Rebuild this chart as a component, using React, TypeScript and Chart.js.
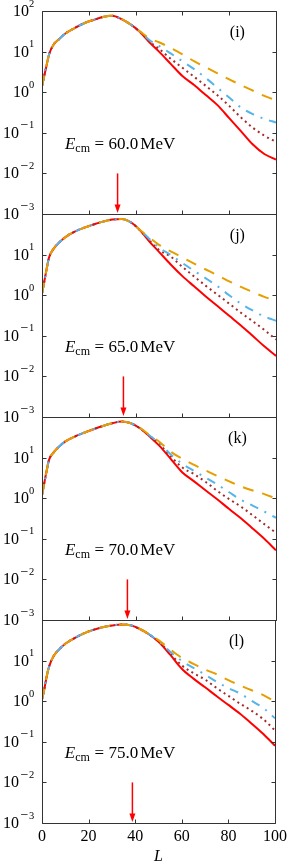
import React, { useEffect, useRef } from "react";
import { Chart, registerables } from "chart.js";

Chart.register(...registerables);

// ---- data ----
const L = [0, 1, 2, 3, 5, 7, 10, 14, 18, 22, 26, 30, 34, 38, 42, 46, 50, 55, 60, 65, 70, 75, 80, 85, 90, 95, 100];

// common part (L = 0 ... 38)
const headI = [1.4, 2.6, 4.7, 8.5, 15, 19.5, 28, 38, 50, 60, 71, 76, 63, 46];
const headJ = [1.1, 2.2, 4.5, 8.5, 14, 19, 27, 37, 46, 55, 65, 73, 75, 62];
const headK = [1.2, 2.4, 4.8, 8.8, 13.5, 18, 25, 33, 41, 50, 60, 70, 77, 70];
const headL = [1.1, 2.0, 4.0, 7.0, 13, 18, 26, 36, 47, 57, 66, 73, 78, 74];

// tails (L = 42 ... 100)
const redTailI = [30, 16.6, 10, 5.0, 2.5, 1.5, 0.85, 0.48, 0.23, 0.11, 0.052, 0.03, 0.022];
const dotTailI = [30, 17.5, 11.7, 6.7, 4.0, 2.4, 1.43, 0.84, 0.46, 0.24, 0.135, 0.085, 0.06];
const blueTailI = [30.5, 19, 13.8, 9.0, 5.8, 3.7, 2.24, 1.29, 0.74, 0.42, 0.29, 0.22, 0.18];
const orangeTailI = [31, 21, 17, 12.3, 8.6, 5.8, 4.1, 2.9, 2.07, 1.5, 1.1, 0.81, 0.63];

const redTailJ = [39, 20.6, 11.7, 5.7, 2.95, 1.65, 0.93, 0.54, 0.31, 0.18, 0.1, 0.055, 0.032];
const dotTailJ = [39, 22, 13, 8.9, 5.0, 2.9, 1.7, 1.03, 0.62, 0.37, 0.23, 0.14, 0.081];
const blueTailJ = [40, 24, 15, 9.8, 6.2, 4.0, 2.6, 1.66, 1.0, 0.62, 0.42, 0.3, 0.235];
const orangeTailJ = [40, 26, 17.4, 12, 8.5, 6.0, 4.3, 3.1, 2.2, 1.6, 1.2, 0.91, 0.73];

const redTailK = [52, 33, 20, 9.3, 4.3, 2.6, 1.55, 0.93, 0.54, 0.32, 0.18, 0.1, 0.052];
const dotTailK = [52, 34, 22, 10.7, 5.7, 3.9, 2.5, 1.5, 0.95, 0.62, 0.38, 0.23, 0.14];
const blueTailK = [53, 35, 23, 12, 7.0, 4.7, 3.2, 2.15, 1.4, 0.91, 0.66, 0.47, 0.33];
const orangeTailK = [53, 36, 25, 14, 9.3, 6.6, 4.8, 3.5, 2.6, 1.95, 1.55, 1.26, 0.98];

const redTailL = [60, 44, 29, 14, 6.3, 3.6, 2.2, 1.32, 0.81, 0.49, 0.28, 0.155, 0.08];
const dotTailL = [60, 44, 30, 15, 7.6, 4.9, 3.4, 2.1, 1.35, 0.87, 0.58, 0.36, 0.19];
const blueTailL = [60, 44.5, 30, 16.6, 9.8, 6.6, 4.5, 3.0, 2.1, 1.55, 1.02, 0.68, 0.38];
const orangeTailL = [60, 45, 32, 19, 11.7, 8.3, 6.0, 4.6, 3.3, 2.45, 1.86, 1.41, 0.98];

const energies = ["60.0", "65.0", "70.0", "75.0"];
const tags = ["(i)", "(j)", "(k)", "(l)"];
const arrowL = [32.3, 34.8, 36.5, 38.8];
const yTickValues = [1e-3, 1e-2, 1e-1, 1, 10, 100];
const xTickValues = [0, 20, 40, 60, 80, 100];

const panels = [
  { head: headI, red: redTailI, dot: dotTailI, blue: blueTailI, orange: orangeTailI },
  { head: headJ, red: redTailJ, dot: dotTailJ, blue: blueTailJ, orange: orangeTailJ },
  { head: headK, red: redTailK, dot: dotTailK, blue: blueTailK, orange: orangeTailK },
  { head: headL, red: redTailL, dot: dotTailL, blue: blueTailL, orange: orangeTailL },
];

// ---- layout / style ----
const SERIF = '"Liberation Serif", "Times New Roman", serif';
const RED = "#ff0000";
const DOT = "#a52a2a";
const BLUE = "#56b4e9";
const ORANGE = "#e69f00";
const FRAME = "#333333";
const WIDTH = 291;
const PAGE_H = 864;
const PLOT_LEFT = 42;
const PLOT_RIGHT = 276;
const PANEL_TOPS = [11, 214, 417, 620];
const PANEL_H = 203;
const PAD = 14;
const XAXIS_H = 41;
const ANNOT_POS = { L: 9.8, y: 0.04 };
const TAG_POS = { L: 83.5, y: 28.5 };

function decoPlugin(idx: number) {
  return {
    id: "deco" + idx,
    afterDraw(chart: any) {
      const { ctx, chartArea: a, scales } = chart;
      const xs = scales.x;
      const ys = scales.y;
      const l = Math.round(a.left) + 0.5;
      const r = Math.round(a.right) + 0.5;
      const t = Math.round(a.top) + 0.5;
      const b = Math.round(a.bottom) + 0.5;
      ctx.save();
      // frame and ticks
      ctx.strokeStyle = FRAME;
      ctx.lineWidth = 1;
      ctx.beginPath();
      ctx.rect(l, t, r - l, b - t);
      for (const v of yTickValues) {
        const py = Math.round(ys.getPixelForValue(v)) + 0.5;
        ctx.moveTo(l, py);
        ctx.lineTo(l + 4, py);
        ctx.moveTo(r, py);
        ctx.lineTo(r - 4, py);
      }
      for (const v of xTickValues) {
        const px = Math.round(xs.getPixelForValue(v)) + 0.5;
        ctx.moveTo(px, b);
        ctx.lineTo(px, b - 4);
        if (idx === 0) {
          ctx.moveTo(px, t);
          ctx.lineTo(px, t + 4);
        }
      }
      ctx.stroke();

      // y tick labels 10^n
      ctx.fillStyle = "#000";
      ctx.textAlign = "left";
      ctx.textBaseline = "alphabetic";
      for (const v of yTickValues) {
        if (v === 100 && idx !== 0) continue;
        const py = ys.getPixelForValue(v);
        const e = Math.round(Math.log10(v));
        const digit = String(Math.abs(e));
        ctx.font = `16px ${SERIF}`;
        const w10 = ctx.measureText("10").width;
        ctx.font = `10.5px ${SERIF}`;
        const wd = ctx.measureText(digit).width;
        const minusW = e < 0 ? 10 : 0;
        const right = a.left - 7.7;
        const x0 = right - wd - minusW - w10;
        ctx.font = `16px ${SERIF}`;
        ctx.fillText("10", x0, py + 5);
        if (e < 0) {
          ctx.font = `14px ${SERIF}`;
          const mw = ctx.measureText("\u2212").width;
          ctx.fillText("\u2212", x0 + w10 + 0.3 + (minusW - mw) / 2, py - 3.8);
        }
        ctx.font = `10.5px ${SERIF}`;
        ctx.fillText(digit, x0 + w10 + minusW, py - 4.5);
      }

      // E_cm annotation
      let ax = xs.getPixelForValue(ANNOT_POS.L);
      const ay = ys.getPixelForValue(ANNOT_POS.y);
      ctx.font = `italic 17px ${SERIF}`;
      ctx.fillText("E", ax, ay);
      ax += ctx.measureText("E").width;
      ctx.font = `12px ${SERIF}`;
      ctx.fillText("cm", ax, ay + 3.5);
      ax += ctx.measureText("cm").width + 4.5;
      ctx.font = `17px ${SERIF}`;
      ctx.fillText("=", ax, ay);
      ax += ctx.measureText("=").width + 4.5;
      ctx.fillText(energies[idx], ax, ay);
      ax += ctx.measureText(energies[idx]).width + 2;
      ctx.fillText("MeV", ax, ay);

      // panel tag
      ctx.font = `16px ${SERIF}`;
      ctx.textAlign = "center";
      ctx.textBaseline = "middle";
      ctx.fillText(tags[idx], xs.getPixelForValue(TAG_POS.L), ys.getPixelForValue(TAG_POS.y));

      // arrow
      const px = xs.getPixelForValue(arrowL[idx]);
      const yTop = ys.getPixelForValue(1e-2);
      const yTip = ys.getPixelForValue(1e-3) - 1;
      ctx.strokeStyle = RED;
      ctx.fillStyle = RED;
      ctx.lineWidth = 1.5;
      ctx.beginPath();
      ctx.moveTo(px, yTop);
      ctx.lineTo(px, yTip - 7);
      ctx.stroke();
      ctx.beginPath();
      ctx.moveTo(px, yTip);
      ctx.lineTo(px - 3, yTip - 8.5);
      ctx.lineTo(px + 3, yTip - 8.5);
      ctx.closePath();
      ctx.fill();
      ctx.restore();
    },
  };
}

function Panel({ idx }: { idx: number }) {
  const ref = useRef<HTMLCanvasElement | null>(null);
  const last = idx === 3;
  const top = PANEL_TOPS[idx] - PAD;
  const height = last ? PAGE_H - top : PANEL_H + 2 * PAD;

  useEffect(() => {
    if (!ref.current) return;
    const p = panels[idx];
    const mk = (tail: number[]) => p.head.concat(tail).map((v, i) => ({ x: L[i], y: v }));
    const ds = (label: string, tail: number[], color: string, dash: number[], order: number) => ({
      label,
      data: mk(tail),
      borderColor: color,
      backgroundColor: color,
      borderWidth: 2,
      borderDash: dash,
      borderCapStyle: "butt",
      pointRadius: 0,
      fill: false,
      cubicInterpolationMode: "monotone",
      order,
    });
    const chart = new Chart(ref.current, {
      type: "line",
      data: {
        datasets: [
          ds("orange dashed", p.orange, ORANGE, [11, 9], 1),
          ds("blue dash-dot", p.blue, BLUE, [9, 7, 2, 7], 2),
          ds("dark red dotted", p.dot, DOT, [2, 3.5], 3),
          ds("red solid", p.red, RED, [], 4),
        ],
      } as any,
      options: {
        animation: false,
        responsive: false,
        events: [],
        layout: {
          padding: { left: PLOT_LEFT, right: WIDTH - PLOT_RIGHT, top: PAD, bottom: last ? 0 : PAD },
        },
        plugins: { legend: { display: false }, tooltip: { enabled: false } },
        scales: {
          x: {
            type: "linear",
            min: 0,
            max: 100,
            display: last,
            grid: { display: false, drawTicks: false },
            border: { display: false },
            afterBuildTicks: (s: any) => {
              s.ticks = xTickValues.map((v) => ({ value: v }));
            },
            ticks: { padding: 4, color: "#000", maxRotation: 0, font: { family: SERIF, size: 16 } },
            title: {
              display: last,
              text: "L",
              color: "#000",
              padding: 0,
              font: { family: SERIF, size: 16, style: "italic", lineHeight: 0.85 },
            },
            afterFit: (s: any) => {
              s.height = last ? XAXIS_H : 0;
            },
          },
          y: {
            type: "logarithmic",
            min: 1e-3,
            max: 100,
            display: false,
          },
        },
      } as any,
      plugins: [decoPlugin(idx)],
    });
    return () => chart.destroy();
  }, [idx]);

  return (
    <canvas
      ref={ref}
      width={WIDTH}
      height={height}
      style={{ position: "absolute", left: 0, top, width: WIDTH, height, display: "block" }}
    />
  );
}

export default function App() {
  return (
    <div style={{ position: "absolute", left: 0, top: 0, width: WIDTH, height: PAGE_H, background: "#fff", overflow: "hidden" }}>
      {[0, 1, 2, 3].map((i) => (
        <Panel key={i} idx={i} />
      ))}
    </div>
  );
}
